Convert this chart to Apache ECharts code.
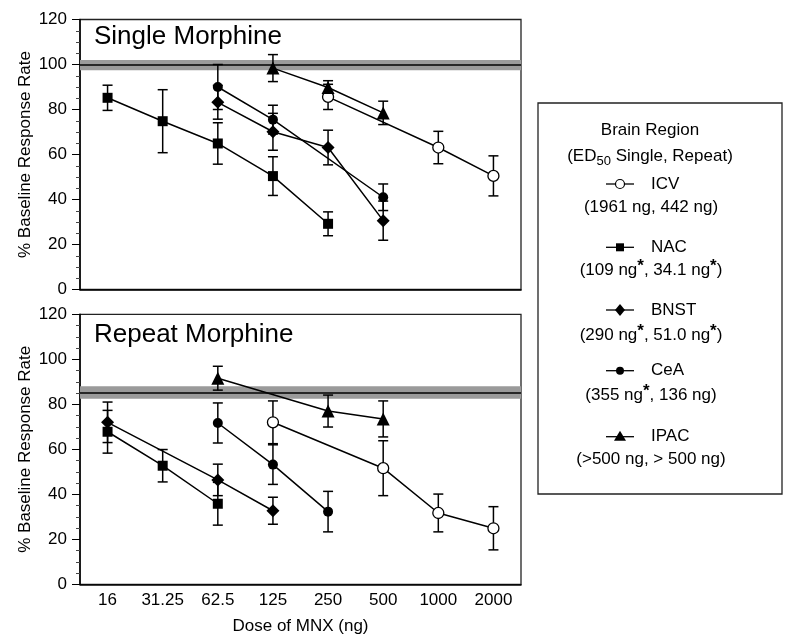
<!DOCTYPE html>
<html><head><meta charset="utf-8">
<script src="https://cdn.jsdelivr.net/npm/echarts@6/dist/echarts.min.js"></script>
<style>html,body{margin:0;padding:0;background:#fff}#c{width:800px;height:644px}</style>
</head><body><div id="c"></div>
<script>
// ---- Data ----
const categories = ['16', '31.25', '62.5', '125', '250', '500', '1000', '2000'];
const yTicks = [0, 20, 40, 60, 80, 100, 120];

// Single morphine: means and SEM
const singleICV = [null, null, null, null, 85.6, null, 63.1, 50.5];
const singleICVErr = [null, null, null, null, 5.6, null, 7.2, 8.9];
const singleNAC = [85.2, 74.8, 64.9, 50.4, 29.2, null, null, null];
const singleNACErr = [5.6, 14.0, 9.2, 8.6, 5.3, null, null, null];
const singleBNST = [null, null, 83.2, 70.1, 63.1, 30.6, null, null];
const singleBNSTErr = [null, null, 7.5, 8.2, 7.7, 8.7, null, null];
const singleCeA = [null, null, 90.0, 75.5, null, 41.0, null, null];
const singleCeAErr = [null, null, 10.0, 6.4, null, 5.9, null, null];
const singleIPAC = [null, null, null, 98.4, 89.8, 78.5, null, null];
const singleIPACErr = [null, null, null, 6.0, 3.0, 5.2, null, null];
const singleBaseline = 100;
const singleBand = [97.5, 102];

// Repeat morphine
const repeatICV = [null, null, null, 72.0, null, 51.6, 31.7, 24.9];
const repeatICVErr = [null, null, null, 9.5, null, 12.2, 8.4, 9.6];
const repeatNAC = [67.8, 52.7, 35.8, null, null, null, null, null];
const repeatNACErr = [9.5, 7.2, 9.5, null, null, null, null, null];
const repeatBNST = [72.0, null, 46.4, 32.7, null, null, null, null];
const repeatBNSTErr = [9.0, null, 7.0, 6.0, null, null, null, null];
const repeatCeA = [null, null, 71.7, 53.2, 32.3, null, null, null];
const repeatCeAErr = [null, null, 8.9, 8.8, 9.0, null, null, null];
const repeatIPAC = [null, null, 91.6, null, 77.0, 73.5, null, null];
const repeatIPACErr = [null, null, 5.3, null, 7.1, 8.0, null, null];
const repeatBaseline = 85.3;
const repeatBand = [82.5, 88];

const panelTitles = ['Single Morphine', 'Repeat Morphine'];
const regionNames = ['ICV', 'NAC', 'BNST', 'CeA', 'IPAC'];
const regionED50 = [
  '(1961 ng, 442 ng)',
  '(109 ng{s|*}, 34.1 ng{s|*})',
  '(290 ng{s|*}, 51.0 ng{s|*})',
  '(355 ng{s|*}, 136 ng)',
  '(>500 ng, > 500 ng)'
];

// ---- Chart ----
const FONT = '"Liberation Sans", Arial, Helvetica, sans-serif';
const markers = {
  ICV: {symbol: 'circle', size: 11, fill: '#fff'},
  NAC: {symbol: 'rect', size: 10, fill: '#000'},
  BNST: {symbol: 'diamond', size: 13, fill: '#000'},
  CeA: {symbol: 'circle', size: 10, fill: '#000'},
  IPAC: {symbol: 'triangle', size: 13, fill: '#000'}
};
const panels = [
  {means: [singleICV, singleNAC, singleBNST, singleCeA, singleIPAC],
   errs: [singleICVErr, singleNACErr, singleBNSTErr, singleCeAErr, singleIPACErr],
   base: singleBaseline, band: singleBand},
  {means: [repeatICV, repeatNAC, repeatBNST, repeatCeA, repeatIPAC],
   errs: [repeatICVErr, repeatNACErr, repeatBNSTErr, repeatCeAErr, repeatIPACErr],
   base: repeatBaseline, band: repeatBand}
];

function errRender(params, api) {
  const x = api.value(0), y = api.value(1), e = api.value(2);
  const t = api.coord([x, y + e]);
  const b = api.coord([x, y - e]);
  const hw = 5;
  const st = {stroke: '#000', lineWidth: 1.5};
  return {type: 'group', children: [
    {type: 'line', shape: {x1: t[0], y1: t[1], x2: b[0], y2: b[1]}, style: st},
    {type: 'line', shape: {x1: t[0] - hw, y1: t[1], x2: t[0] + hw, y2: t[1]}, style: st},
    {type: 'line', shape: {x1: b[0] - hw, y1: b[1], x2: b[0] + hw, y2: b[1]}, style: st}
  ]};
}

const series = [];
panels.forEach((p, gi) => {
  // baseline band + line
  series.push({
    type: 'line', xAxisIndex: gi, yAxisIndex: gi, data: [], z: 1, silent: true,
    markArea: {silent: true, itemStyle: {color: '#9a9a9a'},
      data: [[{yAxis: p.band[0]}, {yAxis: p.band[1]}]]},
    markLine: {silent: true, symbol: 'none', label: {show: false},
      lineStyle: {color: '#000', width: 1.5, type: 'solid'},
      data: [{yAxis: p.base}]}
  });
  regionNames.forEach((name, ri) => {
    const m = p.means[ri], e = p.errs[ri];
    const errData = [];
    m.forEach((v, i) => { if (v != null && e[i] != null) errData.push([i, v, e[i]]); });
    series.push({
      type: 'custom', xAxisIndex: gi, yAxisIndex: gi, z: 2, silent: true,
      renderItem: errRender, encode: {x: 0, y: 1}, data: errData
    });
    const mk = markers[name];
    series.push({
      type: 'line', name: name, xAxisIndex: gi, yAxisIndex: gi, z: 3,
      data: m, connectNulls: true,
      symbol: mk.symbol, symbolSize: mk.size, showSymbol: true,
      lineStyle: {color: '#000', width: 1.5},
      itemStyle: {color: mk.fill, borderColor: '#000', borderWidth: mk.fill === '#fff' ? 1.3 : 0}
    });
  });
});

const grids = [
  {left: 80, top: 19.5, width: 441, height: 270},
  {left: 80, top: 314.3, width: 441, height: 270}
];

const option = {
  animation: false,
  backgroundColor: '#fff',
  textStyle: {fontFamily: FONT},
  grid: grids.map(g => Object.assign({show: true, borderColor: '#222', borderWidth: 1.3, backgroundColor: 'transparent'}, g)),
  xAxis: [0, 1].map(i => ({
    type: 'category', gridIndex: i, data: categories, boundaryGap: true,
    axisLine: {lineStyle: {color: '#000', width: 1.5}},
    axisTick: {show: false},
    axisLabel: {show: i === 1, interval: 0, color: '#000', fontSize: 17, fontFamily: FONT, margin: 8},
    name: i === 1 ? 'Dose of MNX (ng)' : '', nameLocation: 'middle', nameGap: 34,
    nameMoveOverlap: false,
    nameTextStyle: {color: '#000', fontSize: 17, fontFamily: FONT},
    splitLine: {show: false}
  })),
  yAxis: [0, 1].map(i => ({
    type: 'value', gridIndex: i, min: yTicks[0], max: yTicks[yTicks.length - 1], interval: 20,
    axisLine: {show: true, lineStyle: {color: '#000', width: 1.5}},
    axisTick: {show: true, inside: false, length: 8, lineStyle: {color: '#000', width: 1}},
    minorTick: {show: true, splitNumber: 4, length: 4, lineStyle: {color: '#444', width: 1}},
    axisLabel: {color: '#000', fontSize: 17, fontFamily: FONT, margin: 13},
    splitLine: {show: false},
    name: '% Baseline Response Rate', nameLocation: 'middle', nameGap: 46.5,
    nameMoveOverlap: false,
    nameTextStyle: {color: '#000', fontSize: 17, fontFamily: FONT}
  })),
  series: series,
  graphic: []
};

// Panel titles
panelTitles.forEach((t, i) => {
  option.graphic.push({type: 'text', left: 94, top: (i === 0 ? 39.3 : 336.7) - 15,
    style: {text: t, font: '26px ' + FONT, fill: '#000'}});
});

// Legend box
const LX = 650;
option.graphic.push({type: 'rect', shape: {x: 538, y: 103, width: 244, height: 391},
  style: {fill: '#fff', stroke: '#222', lineWidth: 1.3}});
option.graphic.push({type: 'text', x: LX, y: 130, style: {text: 'Brain Region', font: '17px ' + FONT,
  fill: '#000', align: 'center', verticalAlign: 'middle'}});
option.graphic.push({type: 'text', x: LX, y: 156, style: {
  text: '(ED{sub|50} Single, Repeat)', font: '17px ' + FONT, fill: '#000', align: 'center', verticalAlign: 'middle',
  rich: {sub: {fontSize: 13, fontFamily: FONT, padding: [10, 0, 0, 0], verticalAlign: 'bottom'}}}});

const nameY = [184, 247.3, 310, 370.7, 436.7];
const parenY = [207.5, 270, 335.7, 395.7, 459.5];
regionNames.forEach((name, i) => {
  const mk = markers[name];
  const y = nameY[i];
  option.graphic.push({type: 'line', shape: {x1: 606, y1: y, x2: 634, y2: y},
    style: {stroke: '#000', lineWidth: 1.3}});
  let shape;
  if (mk.symbol === 'rect') shape = {type: 'rect', shape: {x: 620 - 4, y: y - 4, width: 8, height: 8}, style: {fill: '#000'}};
  else if (mk.symbol === 'diamond') shape = {type: 'polygon', shape: {points: [[620, y - 6], [625, y], [620, y + 6], [615, y]]}, style: {fill: '#000'}};
  else if (mk.symbol === 'triangle') shape = {type: 'polygon', shape: {points: [[620, y - 6], [626, y + 4], [614, y + 4]]}, style: {fill: '#000'}};
  else if (mk.fill === '#fff') shape = {type: 'circle', shape: {cx: 620, cy: y, r: 4.5}, style: {fill: '#fff', stroke: '#000', lineWidth: 1.2}};
  else shape = {type: 'circle', shape: {cx: 620, cy: y, r: 4}, style: {fill: '#000'}};
  option.graphic.push(shape);
  option.graphic.push({type: 'text', x: 651, y: y, style: {text: name, font: '17px ' + FONT, fill: '#000',
    align: 'left', verticalAlign: 'middle'}});
  option.graphic.push({type: 'text', x: 651, y: parenY[i], style: {text: regionED50[i], font: '17px ' + FONT,
    fill: '#000', align: 'center', verticalAlign: 'middle',
    rich: {s: {fontSize: 17, fontWeight: 'bold', fontFamily: FONT, padding: [0, 0, 8, 0], verticalAlign: 'top'}}}});
});

const chart = echarts.init(document.getElementById('c'), null, {renderer: 'canvas'});
chart.setOption(option);
</script>
</body></html>
